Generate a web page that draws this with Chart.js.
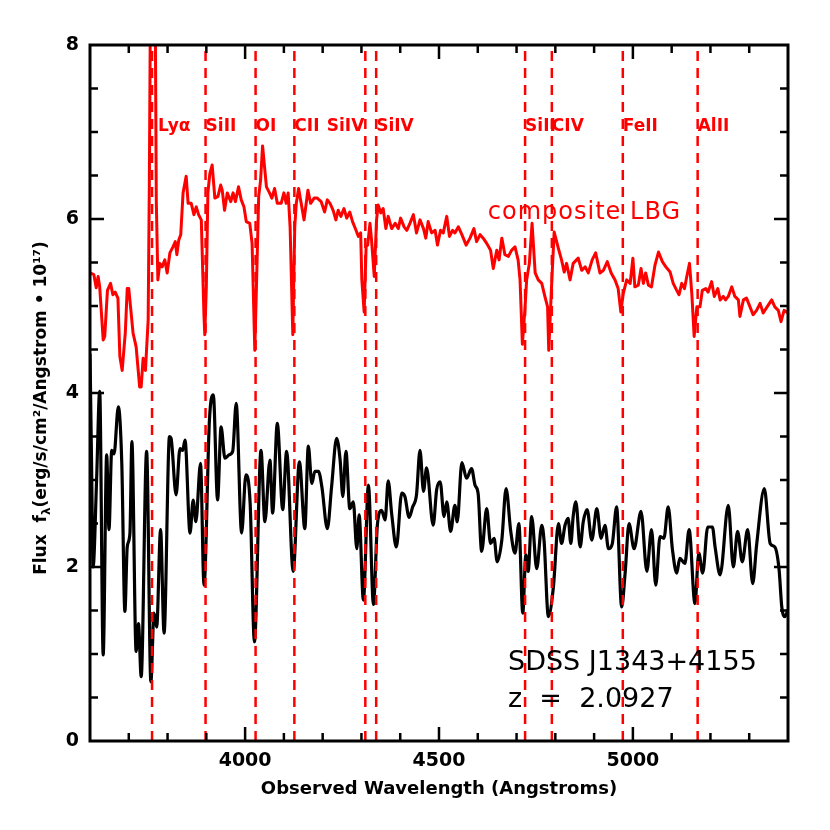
<!DOCTYPE html>
<html>
<head>
<meta charset="utf-8">
<script src="https://cdn.jsdelivr.net/npm/chart.js@4.4.1/dist/chart.umd.min.js"></script>
<style>
  html, body { margin: 0; padding: 0; background: #ffffff; }
</style>
</head>
<body>
<canvas id="specCanvas" width="830" height="830"></canvas>
<script>
// composite LBG spectrum (red), wavelength in Angstrom / flux
const lbgWave = [3600,3610,3616,3621,3625,3634,3638,3645,3653,3659,3665,3672,3677,3683,3691,3696,3700,3711,3719,3728,3732,3737,3743,3750,3753,3756,3760,3764,3768,3771,3775,3780,3786,3793,3799,3806,3814,3820,3824,3829,3834,3840,3848,3853,3861,3868,3874,3880,3887,3894,3896,3900,3904,3909,3915,3922,3930,3937,3941,3947,3954,3963,3969,3975,3983,3990,3997,4003,4012,4018,4025,4031,4035,4040,4045,4055,4063,4069,4076,4083,4093,4100,4106,4111,4116,4123,4128,4132,4138,4143,4152,4162,4169,4178,4186,4196,4205,4212,4219,4227,4234,4240,4247,4255,4262,4270,4277,4286,4292,4298,4301,4307,4312,4316,4322,4326,4333,4339,4343,4350,4356,4363,4369,4378,4387,4395,4401,4410,4417,4425,4434,4442,4451,4460,4466,4472,4481,4490,4496,4504,4511,4520,4527,4535,4541,4550,4559,4570,4580,4590,4597,4606,4614,4623,4633,4640,4649,4655,4662,4670,4679,4687,4696,4704,4709,4715,4722,4726,4733,4740,4748,4756,4765,4773,4780,4783,4791,4797,4808,4816,4823,4829,4838,4846,4859,4868,4877,4885,4895,4904,4915,4924,4934,4944,4954,4962,4969,4975,4984,4993,5000,5005,5014,5021,5027,5033,5040,5048,5057,5066,5076,5085,5096,5104,5113,5119,5126,5133,5139,5146,5152,5158,5165,5173,5179,5188,5194,5203,5210,5219,5225,5233,5239,5246,5255,5263,5272,5276,5285,5293,5302,5310,5319,5328,5336,5349,5358,5366,5375,5382,5390,5400];
const lbgFlux = [5.38,5.36,5.21,5.34,5.22,4.61,4.65,5.18,5.26,5.13,5.16,5.09,4.42,4.26,4.69,5.20,5.20,4.69,4.53,4.07,4.07,4.40,4.26,4.84,6.40,8.60,11.0,11.0,8.60,6.20,5.30,5.49,5.45,5.53,5.38,5.61,5.68,5.74,5.59,5.76,5.82,6.30,6.49,6.18,6.18,6.05,6.14,6.05,5.99,4.88,4.67,5.22,6.30,6.52,6.62,6.24,6.26,6.39,6.33,6.10,6.30,6.20,6.30,6.20,6.37,6.22,6.14,5.97,5.95,5.72,4.49,5.53,6.26,6.45,6.84,6.37,6.30,6.24,6.35,6.18,6.18,6.30,6.18,6.30,5.91,4.67,5.91,6.18,6.35,6.22,5.99,6.33,6.18,6.24,6.24,6.20,6.08,6.22,6.18,6.10,5.99,6.10,6.03,6.12,6.01,6.08,5.97,5.87,5.80,5.84,5.30,4.93,5.68,5.70,5.95,5.76,5.34,5.99,6.16,6.07,6.12,5.89,6.03,5.89,5.95,5.89,6.01,5.91,5.87,5.95,6.05,5.84,5.99,5.89,5.78,5.97,5.84,5.87,5.70,5.87,5.84,6.03,5.80,5.87,5.84,5.91,5.82,5.70,5.78,5.89,5.74,5.82,5.78,5.72,5.64,5.43,5.64,5.53,5.78,5.59,5.57,5.64,5.68,5.53,5.30,4.56,4.99,5.30,5.49,5.95,5.38,5.30,5.26,5.11,4.99,4.49,5.30,5.85,5.66,5.53,5.39,5.49,5.30,5.49,5.55,5.41,5.45,5.38,5.53,5.61,5.38,5.41,5.51,5.38,5.30,5.20,4.93,5.14,5.30,5.26,5.55,5.22,5.24,5.43,5.26,5.38,5.24,5.22,5.47,5.62,5.51,5.45,5.39,5.26,5.18,5.13,5.26,5.20,5.34,5.49,5.14,4.65,4.99,4.99,5.18,5.20,5.16,5.28,5.11,5.20,5.07,5.11,5.07,5.11,5.22,5.11,5.07,4.88,5.07,5.09,4.99,4.90,4.95,5.03,4.92,5.01,5.07,4.99,4.95,4.82,4.95,4.92];

// SDSS J1343+4155 spectrum (black)
const qsoWave = [3600,3604,3608,3617,3625,3634,3643,3649,3656,3662,3673,3682,3690,3696,3703,3708,3719,3725,3732,3746,3757,3765,3772,3782,3791,3805,3809,3822,3832,3839,3845,3858,3866,3873,3885,3894,3908,3918,3929,3938,3948,3959,3968,3977,3991,4002,4013,4024,4041,4051,4064,4071,4083,4097,4107,4124,4140,4154,4163,4172,4180,4189,4198,4212,4223,4236,4245,4252,4260,4270,4279,4288,4294,4305,4318,4331,4341,4352,4361,4369,4378,4390,4404,4412,4423,4432,4442,4451,4460,4468,4485,4494,4503,4513,4520,4530,4541,4547,4559,4571,4584,4593,4601,4610,4623,4633,4642,4650,4662,4673,4685,4696,4706,4716,4724,4730,4739,4752,4765,4771,4782,4795,4808,4816,4825,4833,4840,4846,4853,4864,4872,4882,4894,4907,4918,4928,4937,4947,4958,4971,4980,4990,5003,5021,5036,5048,5059,5070,5080,5091,5102,5113,5121,5134,5145,5160,5170,5180,5193,5205,5212,5225,5246,5259,5270,5282,5296,5309,5319,5339,5354,5366,5377,5384,5392,5400];
const qsoFlux = [4.45,3.20,2.00,3.00,4.02,0.99,3.29,2.43,3.34,3.30,3.84,3.19,1.49,2.23,2.39,3.44,1.03,1.35,0.74,3.33,0.68,1.47,1.31,2.43,1.24,3.50,3.48,2.83,3.36,3.34,3.46,2.39,2.77,2.52,3.19,1.79,3.69,3.98,2.77,3.61,3.25,3.29,3.33,3.88,2.39,3.06,2.73,1.14,3.34,2.52,3.23,2.62,3.65,2.66,3.33,1.95,3.21,2.44,3.39,2.96,3.10,3.10,2.92,2.44,2.92,3.48,3.23,2.81,3.33,2.67,2.75,2.21,2.60,1.62,2.94,1.57,2.48,2.65,2.54,2.99,2.61,2.23,2.85,2.81,2.57,2.69,2.83,3.34,2.87,3.14,2.48,2.89,2.98,2.58,2.75,2.41,2.71,2.52,3.20,3.02,3.13,2.94,2.84,2.18,2.67,2.27,2.33,2.06,2.31,2.90,2.41,2.16,2.50,1.47,2.14,1.95,2.58,1.98,2.48,2.30,1.43,1.77,2.50,2.27,2.48,2.56,2.27,2.58,2.75,2.23,2.52,2.66,2.31,2.67,2.33,2.48,2.21,2.27,2.69,1.54,1.93,2.50,2.21,2.64,1.95,2.43,1.79,2.35,2.33,2.69,2.20,1.93,2.10,2.04,2.43,1.58,2.16,1.93,2.46,2.46,2.23,1.91,2.71,2.00,2.41,2.06,2.43,1.81,2.25,2.90,2.27,2.23,1.97,1.54,1.43,1.51];

// absorption / emission lines at z = 2.0927 (observed wavelength)
const lineNames = ['Ly\u03b1', 'SiII', 'OI', 'CII', 'SiIV', 'SiIV', 'SiII', 'CIV', 'FeII', 'AlII'];
const lineWave = [3760, 3898, 4027, 4127, 4310, 4338, 4722, 4791, 4974, 5167];

const xTickLabels = [4000, 4500, 5000];
const yTickLabels = [0, 2, 4, 6, 8];

Chart.defaults.font.family = "'DejaVu Sans', sans-serif";
Chart.defaults.color = '#000000';

const toPoints = (xs, ys) => xs.map((v, i) => ({ x: v, y: ys[i] }));

const lineSets = lineWave.map((w) => ({
    data: [{ x: w, y: 0 }, { x: w, y: 8 }],
    borderColor: '#ff0000',
    borderWidth: 2.5,
    borderDash: [10, 7],
    pointRadius: 0,
    order: 0
}));

const overlay = {
    id: 'overlay',
    afterDatasetsDraw(chart) {
        const { ctx, chartArea: a, scales: { x, y } } = chart;
        ctx.save();

        // box with inward ticks on all four sides
        ctx.strokeStyle = '#000000';
        ctx.lineWidth = 3;
        ctx.strokeRect(a.left, a.top, a.right - a.left, a.bottom - a.top);
        ctx.lineWidth = 2.5;
        ctx.beginPath();
        for (let v = 3700; v < 5400; v += 100) {
            const px = x.getPixelForValue(v);
            const len = v % 500 === 0 ? 14 : 8;
            ctx.moveTo(px, a.bottom); ctx.lineTo(px, a.bottom - len);
            ctx.moveTo(px, a.top); ctx.lineTo(px, a.top + len);
        }
        for (let v = 0.5; v < 8; v += 0.5) {
            const py = y.getPixelForValue(v);
            const len = v % 2 === 0 ? 14 : 8;
            ctx.moveTo(a.left, py); ctx.lineTo(a.left + len, py);
            ctx.moveTo(a.right, py); ctx.lineTo(a.right - len, py);
        }
        ctx.stroke();

        // line names
        ctx.fillStyle = '#ff0000';
        ctx.font = "bold 17px 'DejaVu Sans'";
        ctx.textBaseline = 'middle';
        const ly = y.getPixelForValue(7.06);
        lineNames.forEach((name, i) => {
            let px = x.getPixelForValue(lineWave[i]);
            ctx.textAlign = 'left';
            if (i === 0) px += 6;
            if (i === 4) { ctx.textAlign = 'right'; px -= 1; }
            ctx.fillText(name, px, ly);
        });

        ctx.textAlign = 'left';
        ctx.font = "24px 'DejaVu Sans'";
        ctx.letterSpacing = '1px';
        ctx.fillText('composite LBG', x.getPixelForValue(4626), y.getPixelForValue(6.07));
        ctx.letterSpacing = '0px';

        ctx.fillStyle = '#000000';
        ctx.font = "27px 'DejaVu Sans'";
        ctx.fillText('SDSS J1343+4155', x.getPixelForValue(4678), y.getPixelForValue(0.90));
        ctx.fillText('z  =  2.0927', x.getPixelForValue(4678), y.getPixelForValue(0.47));

        // y axis title with subscript lambda
        ctx.translate(42, 408);
        ctx.rotate(-Math.PI / 2);
        const parts = [
            { t: 'Flux  f', f: "bold 17px 'DejaVu Sans'", dy: 0 },
            { t: '\u03bb', f: "bold 12px 'DejaVu Sans'", dy: 5 },
            { t: '(erg/s/cm\u00b2/Angstrom \u2022 10\u00b9\u2077)', f: "bold 17px 'DejaVu Sans'", dy: 0 }
        ];
        let total = 0;
        parts.forEach(p => { ctx.font = p.f; p.w = ctx.measureText(p.t).width; total += p.w; });
        let cx = -total / 2;
        parts.forEach(p => {
            ctx.font = p.f;
            ctx.fillText(p.t, cx, p.dy);
            cx += p.w;
        });
        ctx.restore();
    }
};

new Chart(document.getElementById('specCanvas'), {
    type: 'line',
    data: {
        datasets: [
            ...lineSets,
            {
                label: 'composite LBG',
                data: toPoints(lbgWave, lbgFlux),
                borderColor: '#ff0000',
                borderWidth: 3,
                pointRadius: 0,
                tension: 0,
                borderJoinStyle: 'round',
                order: 1
            },
            {
                label: 'SDSS J1343+4155',
                data: toPoints(qsoWave, qsoFlux),
                borderColor: '#000000',
                borderWidth: 3.2,
                pointRadius: 0,
                cubicInterpolationMode: 'monotone',
                borderJoinStyle: 'round',
                order: 2
            }
        ]
    },
    options: {
        responsive: false,
        animation: false,
        layout: { padding: { top: 45, right: 42, left: 0, bottom: 0 } },
        plugins: {
            legend: { display: false },
            tooltip: { enabled: false }
        },
        scales: {
            x: {
                type: 'linear',
                min: 3600,
                max: 5400,
                grid: { display: false, drawTicks: false },
                border: { display: false },
                afterBuildTicks: (axis) => { axis.ticks = xTickLabels.map(v => ({ value: v })); },
                afterFit: (axis) => { axis.height = 89; },
                ticks: {
                    padding: 9,
                    maxRotation: 0,
                    font: { size: 19, weight: 'bold' },
                    callback: (v) => String(v)
                },
                title: {
                    display: true,
                    text: 'Observed Wavelength (Angstroms)',
                    font: { size: 18, weight: 'bold' },
                    padding: { top: 0, bottom: 30 }
                }
            },
            y: {
                type: 'linear',
                min: 0,
                max: 8,
                grid: { display: false, drawTicks: false },
                border: { display: false },
                afterBuildTicks: (axis) => { axis.ticks = yTickLabels.map(v => ({ value: v })); },
                afterFit: (axis) => { axis.width = 90; },
                ticks: {
                    padding: 11,
                    font: { size: 19, weight: 'bold' },
                    callback: (v) => String(v)
                }
            }
        }
    },
    plugins: [overlay]
});
</script>
</body>
</html>
